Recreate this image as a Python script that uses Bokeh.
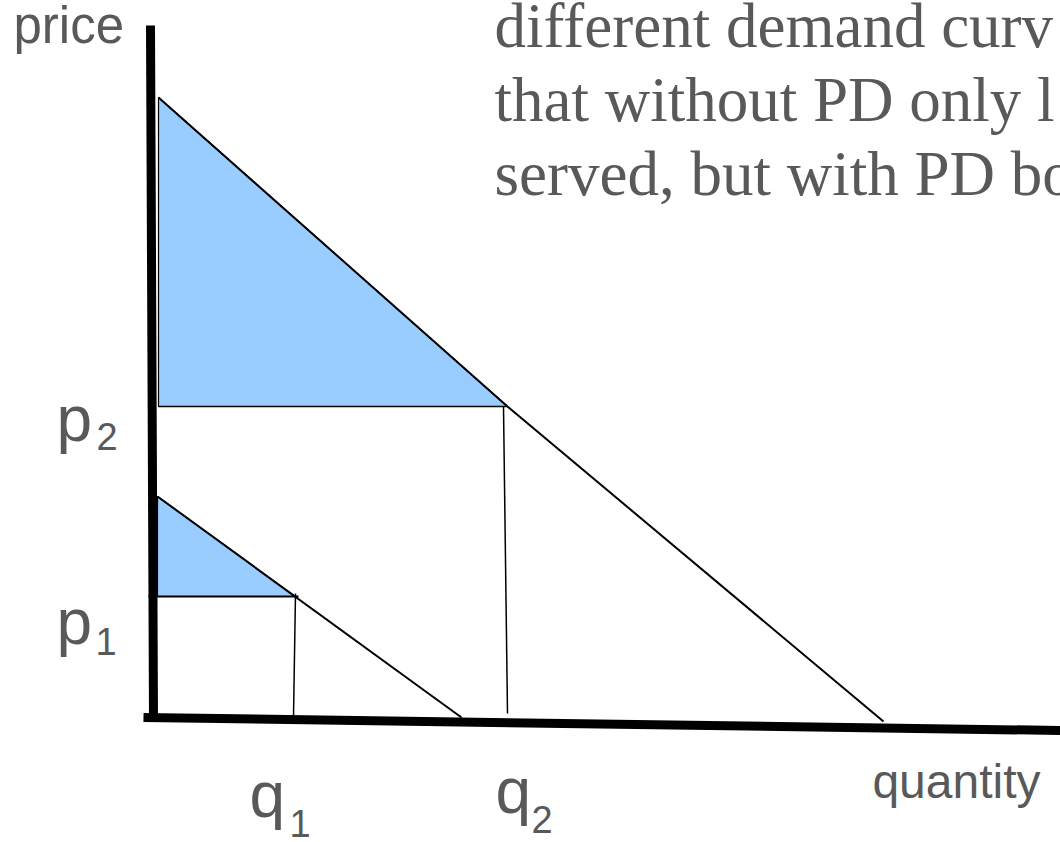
from bokeh.plotting import figure
from bokeh.models import Range1d
from bokeh.core.properties import value
from bokeh.embed import file_html
from bokeh.resources import INLINE

# Hand-drawn price/quantity diagram, units measured from the origin of the axes
price_axis_q = [-3, 0]
price_axis_p = [694, 0]
qty_axis_q = [-10, 907]
qty_axis_p = [2, -11]

# High-valuation demand curve (drawn with a slight kink at the p2 point)
high_demand_q = [5, 354, 730]
high_demand_p = [622, 313, -2]

# Low-valuation demand curve
low_demand_q = [4, 308]
low_demand_p = [223, 2]

# Prices and quantities
p1, p2 = 123, 313
q1, q2 = 142, 354

# Consumer-surplus triangles
cs_high_q = [5, 5, q2]
cs_high_p = [high_demand_p[0], p2, p2]
cs_low_q = [4, 4, q1]
cs_low_p = [low_demand_p[0], p1, p1]

text_lines = [
    "different demand curv",
    "that without PD only l",
    "served, but with PD bo",
]

GREY = "#595959"
BLUE = "#99CCFF"
SANS = value("Liberation Sans")
SERIF = value("Liberation Serif")

p = figure(width=1060, height=842,
           x_range=Range1d(-153, 907), y_range=Range1d(-123, 719),
           x_axis_type=None, y_axis_type=None,
           output_backend="svg", toolbar_location=None,
           min_border=0, min_border_left=0, min_border_right=0,
           min_border_top=0, min_border_bottom=0)
p.grid.visible = False
p.outline_line_color = None
p.background_fill_color = "white"
p.border_fill_color = "white"

# Shaded surplus areas
p.patch(cs_high_q, cs_high_p, fill_color=BLUE, line_color="black", line_width=1.2)
p.patch(cs_low_q, cs_low_p, fill_color=BLUE, line_color="black", line_width=1.2)

# Demand curves
p.line(high_demand_q, high_demand_p, line_color="black", line_width=2)
p.line(low_demand_q, low_demand_p, line_color="black", line_width=2)

# Price levels and quantity drop lines
p.line([-5, q1 + 3], [p1, p1], line_color="black", line_width=2)
p.line([q1, q1 - 2], [p1 + 3, 3], line_color="black", line_width=1.5)
p.line([5, q2], [p2, p2], line_color="black", line_width=1.5)
p.line([q2 - 4, q2], [p2, 6], line_color="black", line_width=1.5)

# Thick axes
p.line(price_axis_q, price_axis_p, line_color="black", line_width=9, line_cap="butt")
p.line(qty_axis_q, qty_axis_p, line_color="black", line_width=9, line_cap="butt")

# Axis names
p.text(x=[price_axis_q[0]], y=[price_axis_p[0]], text=["price"], x_offset=-137, y_offset=0,
       text_font=SANS, text_font_size="51px", text_color=GREY,
       text_align="left", text_baseline="alphabetic")
p.text(x=[qty_axis_q[1]], y=[qty_axis_p[1]], text=["quantity"], x_offset=-20, y_offset=51,
       text_font=SANS, text_font_size="48px", text_color=GREY,
       text_align="right", text_baseline="alphabetic")

# Price and quantity labels with subscripts
def label(x, y, main, sub, dx, dy, sdx, sdy):
    p.text(x=[x], y=[y], text=[main], x_offset=dx, y_offset=dy,
           text_font=SANS, text_font_size="64px", text_color=GREY,
           text_align="left", text_baseline="alphabetic")
    p.text(x=[x], y=[y], text=[sub], x_offset=sdx, y_offset=sdy,
           text_font=SANS, text_font_size="38px", text_color=GREY,
           text_align="left", text_baseline="alphabetic")

label(0, p2, "p", "2", -97, 12, -57, 30)
label(0, p1, "p", "1", -97, 25, -58, 45)
label(q1, 0, "q", "1", -46, 75, -6, 104)
label(q2, 0, "q", "2", -12, 71, 24, 100)

# Slide text
for i, line in enumerate(text_lines):
    p.text(x=[-153], y=[719], text=[line], x_offset=494, y_offset=25 + 74 * i,
           text_font=SERIF, text_font_size="63px", text_color=GREY,
           text_align="left", text_baseline="alphabetic")

open("out.html", "w").write(file_html(p, INLINE))
